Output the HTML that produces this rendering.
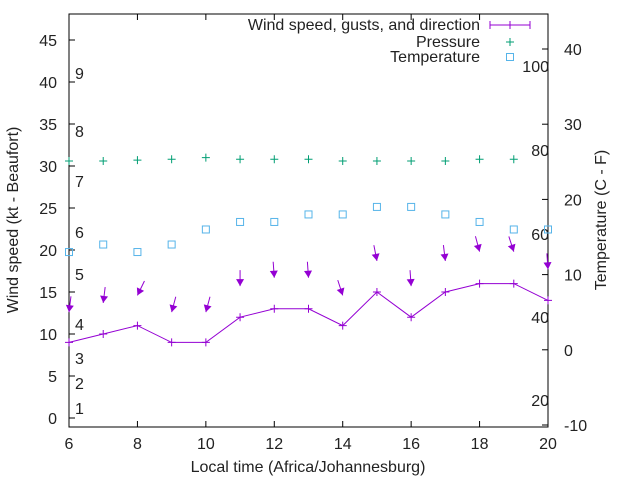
<!DOCTYPE html>
<html><head><meta charset="utf-8"><style>
body{margin:0;background:#fff}
svg{font-family:"Liberation Sans",sans-serif;font-size:16px}
</style></head><body>
<svg width="640" height="480" xmlns="http://www.w3.org/2000/svg">
<g id="g"></g>
</svg>
<script>
const hours=[6,7,8,9,10,11,12,13,14,15,16,17,18,19,20];
const windSpeed=[9,10,11,9,9,12,13,13,11,15,12,15,16,16,14];
const gusts=[12.6,13.7,14.6,12.6,12.6,15.7,16.7,16.7,14.6,18.7,15.7,18.7,19.8,19.8,17.7];
const gustDir=[7,7,26,15,15,0,-4,-4,-18,-11,-4,-7,-15,-18,-4];
const pressureY=[30.6,30.6,30.7,30.8,31.0,30.8,30.8,30.8,30.6,30.6,30.6,30.6,30.8,30.8,null];
const temps=[13,14,13,14,16,17,17,18,18,19,19,18,17,16,16];
const leftTicks=[0,5,10,15,20,25,30,35,40,45];
const rightTicks=[-10,0,10,20,30,40];
const xTicks=[6,8,10,12,14,16,18,20];
const beaufort=[[1,408],[2,383],[3,358],[4,324],[5,274],[6,232],[7,181],[8,131],[9,73]];
const pressLabels=[[100,66],[80,150],[60,234],[40,317],[20,400]];
const L=69,R=548,T=14,B=427;
const X=h=>L+(h-6)*(R-L)/14;
const Y=v=>418-v*8.4;
const YT=t=>49+(40-t)*7.52;
const g=document.getElementById('g');
const NS='http://www.w3.org/2000/svg';
function el(tag,attrs,txt){const e=document.createElementNS(NS,tag);for(const k in attrs)e.setAttribute(k,attrs[k]);if(txt!=null)e.textContent=txt;g.appendChild(e);return e;}
// axes frame
let f=el('rect',{x:L,y:T,width:R-L,height:B-T,fill:'none',stroke:'#000','stroke-width':1});

leftTicks.forEach(v=>{let y=Y(v);el('line',{x1:L,y1:y,x2:L+6,y2:y,stroke:'#000'});
 let t=el('text',{x:L-12,y:y+6,'text-anchor':'end',fill:'#222'},v);});
rightTicks.forEach(v=>{let y=YT(v);el('line',{x1:R-6,y1:y,x2:R,y2:y,stroke:'#000'});
 let t=el('text',{x:R+16,y:y+6,fill:'#222'},v);});
xTicks.forEach(v=>{let x=X(v);el('line',{x1:x,y1:B,x2:x,y2:B-6,stroke:'#000'});el('line',{x1:x,y1:T,x2:x,y2:T+6,stroke:'#000'});
 let t=el('text',{x:x,y:B+22,'text-anchor':'middle',fill:'#222'},v);});
beaufort.forEach(b=>{let t=el('text',{x:75,y:b[1]+6,fill:'#222'},b[0]);});
pressLabels.forEach(b=>{let t=el('text',{x:549,y:b[1]+6,'text-anchor':'end',fill:'#222'},b[0]);});
// titles
let tx=el('text',{x:308,y:472,'text-anchor':'middle',fill:'#222'},'Local time (Africa/Johannesburg)');
let ty=el('text',{x:18,y:220,'text-anchor':'middle',fill:'#222',transform:'rotate(-90 18 220)'},'Wind speed (kt - Beaufort)');
let ty2=el('text',{x:606,y:220,'text-anchor':'middle',fill:'#222',transform:'rotate(-90 606 220)'},'Temperature (C - F)');
// wind line
let pts=hours.map((h,i)=>X(h)+','+Y(windSpeed[i])).join(' ');
let pl=el('polyline',{points:pts,fill:'none',stroke:'#9400d3','stroke-width':1});
hours.forEach((h,i)=>{let x=X(h),y=Y(windSpeed[i]);let p=el('path',{d:`M${x-4},${y}H${x+4}M${x},${y-4}V${y+4}`,stroke:'#9400d3'});});
// gust arrows
hours.forEach((h,i)=>{let x=X(h),y=Y(gusts[i]);let a=gustDir[i]*Math.PI/180;let dx=16*Math.sin(a),dy=16*Math.cos(a);
 let ux=-dx/16,uy=dy/16;let px=-uy,py=ux;
 let bx=x-ux*7,by=y-uy*7;
 let grp=el('g',{});
 let ln=document.createElementNS(NS,'line');ln.setAttribute('x1',x+dx);ln.setAttribute('y1',y-dy);ln.setAttribute('x2',x);ln.setAttribute('y2',y);ln.setAttribute('stroke','#9400d3');grp.appendChild(ln);
 let hd=document.createElementNS(NS,'polygon');hd.setAttribute('points',`${x},${y} ${bx+px*4},${by+py*4} ${bx-px*4},${by-py*4}`);hd.setAttribute('fill','#9400d3');grp.appendChild(hd);});
// pressure
hours.forEach((h,i)=>{if(pressureY[i]==null)return;let x=X(h),y=Y(pressureY[i]);let p=el('path',{d:`M${x-4},${y}H${x+4}M${x},${y-4}V${y+4}`,stroke:'#009e73'});});
// temperature
hours.forEach((h,i)=>{let x=X(h),y=YT(temps[i]);let r=el('rect',{x:x-3.5,y:y-3.5,width:7,height:7,fill:'none',stroke:'#56b4e9'});});
// legend
let l1=el('text',{x:480,y:30,'text-anchor':'end',fill:'#222'},'Wind speed, gusts, and direction');
el('path',{d:'M490,25H530M490,21V29M510,21V29M530,21V29',stroke:'#9400d3'});
let l2=el('text',{x:480,y:47,'text-anchor':'end',fill:'#222'},'Pressure');
el('path',{d:'M506,42H514M510,38V46',stroke:'#009e73'});
let l3=el('text',{x:480,y:62,'text-anchor':'end',fill:'#222'},'Temperature');
el('rect',{x:506.5,y:53.5,width:7,height:7,fill:'none',stroke:'#56b4e9'});
</script>
</body></html>
